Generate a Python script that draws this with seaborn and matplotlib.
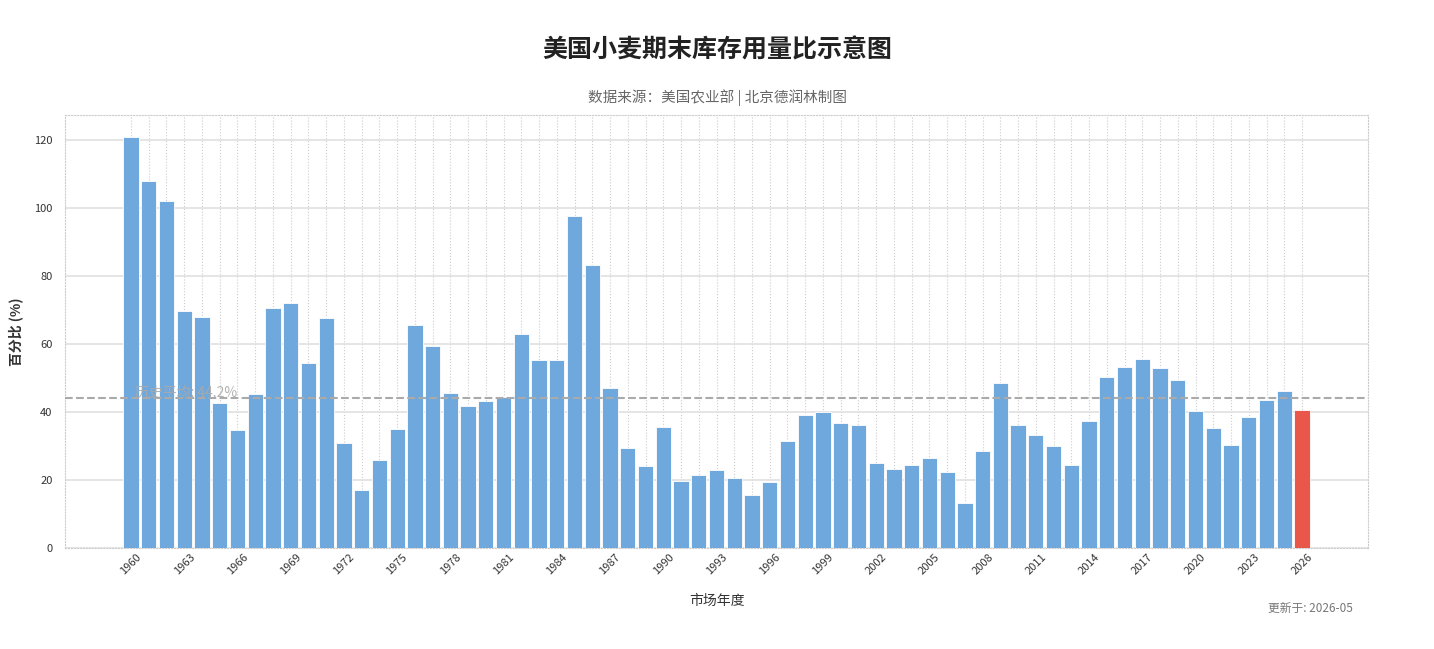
import matplotlib
matplotlib.use("Agg")
import matplotlib.pyplot as plt
import seaborn as sns
import pandas as pd
import numpy as np

years = list(range(1960, 2027))
ratios = [120.6, 107.9, 102.0, 69.7, 67.9, 42.6, 34.7, 45.3, 70.6, 72.0,
          54.4, 67.6, 30.9, 17.0, 25.9, 35.0, 65.6, 59.4, 45.6, 41.8,
          43.2, 44.4, 62.9, 55.3, 55.3, 97.4, 83.2, 47.0, 29.4, 24.1,
          35.6, 19.7, 21.5, 22.9, 20.6, 15.6, 19.4, 31.5, 39.1, 40.0,
          36.8, 36.2, 25.0, 23.2, 24.4, 26.5, 22.4, 13.2, 28.5, 48.5,
          36.2, 33.2, 30.0, 24.4, 37.4, 50.3, 53.2, 55.6, 52.9, 49.4,
          40.3, 35.3, 30.3, 38.5, 43.5, 46.2, 40.6]
hist_avg = 44.2
tick_years = list(range(1960, 2027, 3))

title = "美国小麦期末库存用量比示意图"
subtitle = "数据来源：美国农业部 | 北京德润林制图"
ylabel = "百分比 (%)"
xlabel = "市场年度"
avg_label = f"历史平均: {hist_avg}%"
update_note = "更新于: 2026-05"

sns.set_theme(style="white")
plt.rcParams['font.family'] = ['Noto Sans CJK SC', 'DejaVu Sans']
plt.rcParams['axes.unicode_minus'] = False

df = pd.DataFrame({"year": [str(y) for y in years], "ratio": ratios})
df["kind"] = ["latest" if y == years[-1] else "hist" for y in years]

fig = plt.figure(figsize=(14.34, 6.49), dpi=100)
ax = fig.add_axes([65/1434, 1 - 548/649, (1368-65)/1434, (548-115)/649])

sns.barplot(data=df, x="year", y="ratio", hue="kind",
            palette={"hist": "#6FA8DC", "latest": "#E8574A"},
            saturation=1, width=0.86, edgecolor="white", linewidth=0.6,
            legend=False, ax=ax, zorder=3)

ax.set_xlim(-3.72, len(years) - 1 + 3.72)
ax.set_ylim(0, 127.2)

pos = [years.index(y) for y in tick_years]
ax.set_xticks(pos)
ax.set_xticklabels([str(y) for y in tick_years], rotation=45, fontsize=8, color="#333333")
ax.set_xticks(range(len(years)), minor=True)
ax.set_yticks(range(0, 121, 20))
ax.tick_params(axis="y", labelsize=8, colors="#333333", length=0, pad=9)
ax.tick_params(axis="x", which="both", length=0, pad=3)

ax.grid(True, which="both", axis="x", color="#cccccc", linestyle=":", linewidth=0.8, zorder=0)
ax.grid(True, which="major", axis="y", color="#e0e0e0", linestyle="-", linewidth=1.2, zorder=0)
for s in ax.spines.values():
    s.set_color("#cccccc")
    s.set_linestyle(":")
    s.set_linewidth(0.8)

ax.axhline(hist_avg, color="#aaaaaa", linestyle="--", linewidth=1.5, zorder=4)
ax.text(0.2, hist_avg - 0.8, avg_label, color="#aaaaaa", fontsize=10, va="bottom", ha="left", zorder=5, alpha=0.9)

ax.set_ylabel(ylabel, fontsize=10, fontweight="bold", color="#333333", labelpad=8)
ax.set_xlabel(xlabel, fontsize=10, color="#333333", labelpad=12)

fig.text(0.5, 1 - 50/649, title, ha="center", va="center", fontsize=18, fontweight="bold", color="#222222")
fig.text(0.5, 1 - 98/649, subtitle, ha="center", va="center", fontsize=10.5, color="#666666")
fig.text(1310/1434, 1 - 608/649, update_note, ha="center", va="center", fontsize=8.5, color="#777777")

fig.savefig("out.png", dpi=100, facecolor="white")
